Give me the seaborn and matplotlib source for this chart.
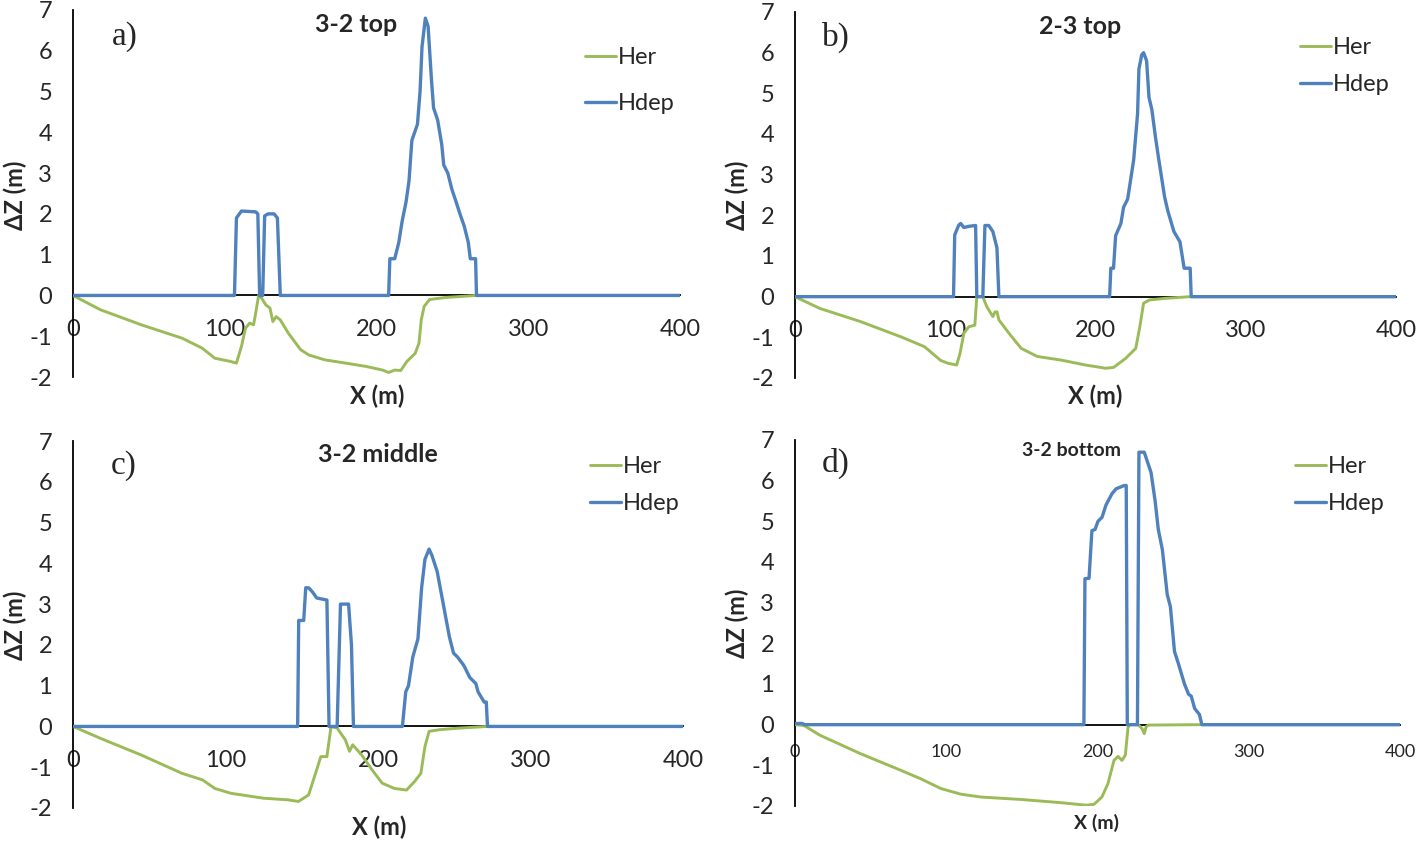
import numpy as np
import pandas as pd
import seaborn as sns
from matplotlib import pyplot as plt

# ---- data (x in m, dZ in m) ----
# a) 3-2 top
her_a_x = [0, 18, 45, 72, 85, 93.5, 104, 107.7, 111, 113.7, 116.4, 119, 120.4, 122.3, 124.4, 127, 129.8, 131.7,
           133.9, 136.6, 142, 150, 155.4, 166, 179.7, 193, 204, 208, 212, 216, 220, 225.5, 228, 229.5, 231.4,
           234.9, 245.6, 257.8, 265.9, 400]
her_a_y = [0, -0.35, -0.72, -1.05, -1.29, -1.54, -1.62, -1.66, -1.25, -0.8, -0.68, -0.72, -0.43, 0, -0.07, -0.23,
           -0.31, -0.64, -0.52, -0.6, -0.93, -1.33, -1.46, -1.58, -1.66, -1.74, -1.83, -1.89, -1.83, -1.84, -1.62,
           -1.42, -1.17, -0.6, -0.27, -0.1, -0.05, -0.02, 0, 0]
hdep_a_x = [0, 106.4, 107.7, 111, 120.4, 121.8, 123, 125, 126.3, 128.5, 132.5, 134.7, 136.6, 208, 208.8, 212,
            214.7, 216.8, 219.5, 221.4, 223.3, 227, 228.7, 230, 232.2, 234, 236.2, 237.6, 240.3, 243, 244.3, 247,
            249.7, 252.4, 255, 257.8, 260.5, 261.8, 265.3, 265.9, 400]
hdep_a_y = [0, 0, 1.9, 2.07, 2.05, 2.0, 0, 0, 1.95, 2.0, 2.0, 1.9, 0, 0, 0.9, 0.9, 1.3, 1.8, 2.3, 2.8, 3.8, 4.2,
            5.0, 6.1, 6.8, 6.6, 5.3, 4.6, 4.3, 3.7, 3.2, 3.0, 2.6, 2.3, 2.0, 1.7, 1.3, 0.9, 0.9, 0, 0]

# b) 2-3 top
her_b_x = [0, 16.6, 43.4, 70, 86.2, 97, 102, 107.6, 109.8, 112.4, 115.7, 119.7, 121, 125, 127.7, 131.7, 133,
           134.4, 135.7, 142.4, 150.5, 161.2, 177.2, 193.3, 206.7, 212, 220, 226.8, 229.5, 232, 236, 246.8, 263, 400]
her_b_y = [0, -0.29, -0.61, -0.98, -1.23, -1.57, -1.64, -1.68, -1.4, -0.9, -0.74, -0.7, 0, 0, -0.25, -0.49, -0.38,
           -0.37, -0.57, -0.9, -1.27, -1.47, -1.56, -1.68, -1.76, -1.74, -1.52, -1.27, -0.74, -0.16, -0.08, -0.04, 0, 0]
hdep_b_x = [0, 105.5, 106.3, 109, 110.3, 112.4, 115.7, 120.2, 121, 125, 126.4, 129, 131.7, 134.4, 135.7, 209.4,
            210.2, 212, 213.4, 216.9, 218.7, 221.4, 225.4, 228, 228.9, 230.8, 232, 234, 235.6, 237.5, 240, 242, 246,
            248.2, 252.2, 256.2, 259, 263, 263.7, 400]
hdep_b_y = [0, 0, 1.52, 1.76, 1.8, 1.7, 1.73, 1.75, 0, 0, 1.75, 1.75, 1.6, 1.2, 0, 0, 0.7, 0.7, 1.5, 1.8, 2.2,
            2.4, 3.36, 4.5, 5.6, 5.95, 6.0, 5.8, 4.9, 4.6, 3.9, 3.4, 2.45, 2.1, 1.6, 1.35, 0.7, 0.7, 0, 0]

# c) 3-2 middle
her_c_x = [0, 17.9, 44.7, 71.5, 84.9, 93, 103.6, 125, 141, 147.8, 154.5, 159.8, 162.5, 166.5, 169.2, 173.2, 178.6,
           181.3, 183.4, 189.3, 196, 202.7, 210.7, 218.7, 224, 228.1, 230.8, 233.5, 240.2, 253.6, 271.8, 400]
her_c_y = [0, -0.29, -0.7, -1.15, -1.31, -1.52, -1.64, -1.76, -1.8, -1.84, -1.68, -1.06, -0.74, -0.74, 0, -0.04,
           -0.33, -0.61, -0.45, -0.7, -1.06, -1.39, -1.52, -1.56, -1.35, -1.15, -0.49, -0.12, -0.08, -0.04, 0, 0]
hdep_c_x = [0, 147.3, 148, 151.3, 152.6, 154.5, 157, 159.8, 166.5, 167.9, 173.2, 175.4, 180.7, 182.6, 183.9, 216,
            218.2, 220, 222.8, 226.2, 228.6, 230.8, 233.5, 235.3, 238.8, 242.8, 246.8, 249.5, 252.2, 256.2, 260.2,
            264.2, 265.6, 269.6, 271, 271.8, 400]
hdep_c_y = [0, 0, 2.6, 2.6, 3.4, 3.4, 3.3, 3.15, 3.1, 0, 0, 3.0, 3.0, 2.0, 0, 0, 0.85, 1.0, 1.7, 2.15, 3.4, 4.1,
            4.35, 4.2, 3.8, 3.0, 2.2, 1.8, 1.7, 1.5, 1.2, 1.05, 0.85, 0.6, 0.6, 0, 0]

# d) 3-2 bottom
her_d_x = [0, 5.9, 16.5, 43.1, 69.8, 83.1, 96.4, 109.7, 123, 149.7, 176.3, 192.3, 197.6, 202.9, 206.9, 210.9,
           213.6, 216.2, 218.4, 220.2, 221.6, 226.9, 229.5, 230.9, 232.2, 233.6, 269, 400]
her_d_y = [0, -0.02, -0.26, -0.71, -1.12, -1.33, -1.57, -1.71, -1.78, -1.84, -1.92, -1.98, -1.96, -1.78, -1.45,
           -0.88, -0.78, -0.88, -0.75, -0.06, 0, 0, -0.1, -0.22, -0.05, -0.01, 0, 0]
hdep_d_x = [0, 5, 6, 191, 191.7, 194.4, 196.3, 198.4, 200.3, 203, 205.6, 207, 209.6, 212.3, 217.6, 219, 219.7,
            226.4, 227.4, 230.9, 233.6, 235.4, 238.1, 240.2, 242.9, 246.1, 248.2, 250.9, 253.5, 257.5, 260.2, 262,
            264.2, 267.4, 269, 400]
hdep_d_y = [0.03, 0.03, 0, 0, 3.59, 3.6, 4.77, 4.8, 5.0, 5.1, 5.4, 5.5, 5.68, 5.8, 5.88, 5.88, 0, 0, 6.7, 6.7,
            6.4, 6.2, 5.5, 4.8, 4.3, 3.2, 2.9, 1.8, 1.5, 1.0, 0.75, 0.7, 0.4, 0.25, 0, 0]

panel_tags = ["a)", "b)", "c)", "d)"]
panel_titles = ["3-2 top", "2-3 top", "3-2 middle", "3-2 bottom"]
x_ticks = [0, 100, 200, 300, 400]
y_ticks = [-2, -1, 0, 1, 2, 3, 4, 5, 6, 7]

GREEN = "#9BBB59"
BLUE = "#4F81BD"

sns.set_style("white")
plt.rcParams['font.family'] = ['Lato', 'DejaVu Sans']
plt.rcParams['axes.unicode_minus'] = False

W, H = 1418, 842
fig = plt.figure(figsize=(W / 100, H / 100), dpi=100)


def fx(x):
    return x / W


def fy(y):
    return 1 - y / H


# layout in reference pixels: axes box, tag, title, legend, labels
layout = [
    dict(box=(73, 680, 10, 377), tag=(125, 37), title=(356, 25, 18), leg=(585, 47, 1.05),
         ylab=(15, 195), xlab=(377, 396, 17), xtick=17, pad=17),
    dict(box=(795, 1396, 12, 378), tag=(836, 37), title=(1080, 26, 18), leg=(1300, 37, 0.67),
         ylab=(737, 195), xlab=(1095, 396, 17), xtick=17, pad=17),
    dict(box=(73, 683, 441, 808), tag=(124, 466), title=(378, 455, 18), leg=(590, 456, 0.67),
         ylab=(15, 625), xlab=(379, 827, 17), xtick=17, pad=17),
    dict(box=(795, 1400, 440, 806), tag=(836, 463), title=(1072, 450, 14), leg=(1295, 456, 0.67),
         ylab=(737, 623), xlab=(1096, 823, 14), xtick=13, pad=14),
]

series = [
    (her_a_x, her_a_y, hdep_a_x, hdep_a_y),
    (her_b_x, her_b_y, hdep_b_x, hdep_b_y),
    (her_c_x, her_c_y, hdep_c_x, hdep_c_y),
    (her_d_x, her_d_y, hdep_d_x, hdep_d_y),
]

for i in range(4):
    L = layout[i]
    left, right, top, bottom = L['box']
    ax = fig.add_axes([fx(left), fy(bottom), (right - left) / W, (bottom - top) / H])
    hx, hy, dx, dy = series[i]
    sns.lineplot(x=hx, y=hy, ax=ax, color=GREEN, lw=2.1, estimator=None, sort=False, label="Her", zorder=3)
    sns.lineplot(x=dx, y=dy, ax=ax, color=BLUE, lw=2.4, estimator=None, sort=False, label="Hdep", zorder=4)

    ax.set_xlim(0, 400)
    ax.set_ylim(-2, 7)
    ax.set_xticks(x_ticks)
    ax.set_yticks(y_ticks)
    ax.spines['top'].set_visible(False)
    ax.spines['right'].set_visible(False)
    ax.spines['bottom'].set_position(('data', 0))
    for s in ['left', 'bottom']:
        ax.spines[s].set_color('black')
        ax.spines[s].set_linewidth(1.3)
    ax.tick_params(axis='y', direction='in', length=5, width=1.2, pad=15, labelsize=17, color='black')
    ax.tick_params(axis='x', direction='in', length=6, width=1.2, pad=L['pad'], labelsize=L['xtick'], color='black')
    ax.set_xlabel("")
    ax.set_ylabel("")

    ax.legend(loc='upper left', bbox_to_anchor=(fx(L['leg'][0]), fy(L['leg'][1])),
              bbox_transform=fig.transFigure, frameon=False, fontsize=17, handlelength=1.3,
              handletextpad=0.1, labelspacing=L['leg'][2], borderpad=0, borderaxespad=0)

    fig.text(fx(L['tag'][0]), fy(L['tag'][1]), panel_tags[i], ha='center', va='center',
             fontsize=24, family='Liberation Serif')
    fig.text(fx(L['title'][0]), fy(L['title'][1]), panel_titles[i], ha='center', va='center',
             fontsize=L['title'][2], fontweight='bold')
    fig.text(fx(L['ylab'][0]), fy(L['ylab'][1]), "ΔZ (m)", ha='center', va='center', rotation=90,
             fontsize=17, fontweight='bold')
    fig.text(fx(L['xlab'][0]), fy(L['xlab'][1]), "X (m)", ha='center', va='center',
             fontsize=L['xlab'][2], fontweight='bold')

plt.savefig("out.png", dpi=100)
plt.close()
